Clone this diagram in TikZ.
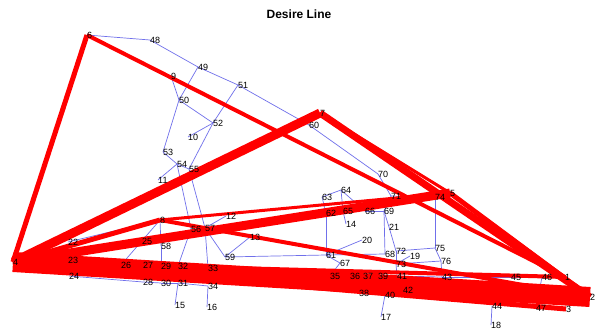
\documentclass[tikz,border=0pt]{standalone}
\usepackage{fontspec}
\setmainfont{Liberation Sans}
\definecolor{linkblue}{RGB}{112,112,235}
\begin{document}
\begin{tikzpicture}[x=1pt,y=-1pt,
  link/.style={draw=linkblue,line width=0.7pt},
  desire/.style={draw=red,line cap=butt},
  lbl/.style={anchor=west,inner sep=0pt,font=\fontsize{9}{9}\selectfont}]
\useasboundingbox (0,0) rectangle (597,329);
\fill[white] (0,0) rectangle (597,329);

% network node positions
\foreach \n/\x/\y in {
  1/565/277, 2/590/297, 3/566/309, 4/13/262, 5/450/193, 6/87/35, 7/320/113,
  8/160/220, 9/171/76, 10/188/137, 11/158/180, 12/226/216, 13/250/237,
  14/346/224, 15/175/305, 16/207/307, 17/381/317, 18/491/325, 19/410/256,
  20/362/240, 21/389/227, 22/68/242, 23/68/260, 24/69/276, 25/142/241,
  26/121/265, 27/143/265, 28/143/282, 29/161/266, 30/161/283, 31/178/283,
  32/178/266, 33/208/268, 34/208/286, 35/330/276, 36/350/276, 37/363/276,
  38/359/293, 39/378/276, 40/385/295, 41/397/276, 42/403/290, 43/442/277,
  44/492/306, 45/511/277, 46/542/277, 47/536/308, 48/150/40, 49/198/67,
  50/179/100, 51/238/85, 52/213/123, 53/163/152, 54/177/164, 55/189/169,
  56/191/229, 57/205/228, 58/161/246, 59/225/257, 60/309/125, 61/326/255,
  62/326/213, 63/322/197, 64/341/190, 65/343/211, 66/365/211, 67/340/263,
  68/385/254, 69/384/211, 70/378/174, 71/391/196, 72/396/251, 73/396/264,
  74/435/197, 75/435/248, 76/441/261}
  \coordinate (n\n) at (\x,\y);

% road links
\foreach \a/\b in {6/48, 48/49, 49/51, 49/50, 9/50, 50/52, 51/52, 51/60,
  52/10, 52/55, 50/53, 53/54, 54/11, 54/55, 54/56, 55/57, 56/32, 57/33,
  57/12, 57/59, 59/13, 59/61, 8/58, 58/29, 8/26, 22/8, 24/28, 28/30,
  30/31, 31/34, 31/15, 34/16, 63/62, 62/61, 63/64, 64/65, 65/14, 64/66,
  66/69, 69/68, 69/21, 21/72, 72/73, 70/71, 71/69, 71/74, 74/75, 75/76,
  76/43, 72/75, 61/68, 61/20, 61/67, 67/35, 19/73, 73/76, 73/41, 41/43,
  43/45, 45/46, 46/1, 46/47, 44/18, 40/17, 60/70}
  \draw[link] (n\a) -- (n\b);

% desire lines, width by demand
\foreach \a/\b/\w in {4/2/20, 4/7/9, 4/5/9, 4/6/5, 4/8/5, 7/2/7, 5/2/5,
  4/3/5, 6/1/4, 4/1/4, 8/2/4, 7/5/3, 8/5/3, 5/1/3}
  \draw[desire,line width=\w pt] (n\a) -- (n\b);

% node labels
\foreach \n in {1,...,76}
  \node[lbl] (l\n) at (n\n) {\n};

\node[font=\bfseries\fontsize{12}{12}\selectfont] (title) at (299,14) {Desire Line};
\end{tikzpicture}
\end{document}
